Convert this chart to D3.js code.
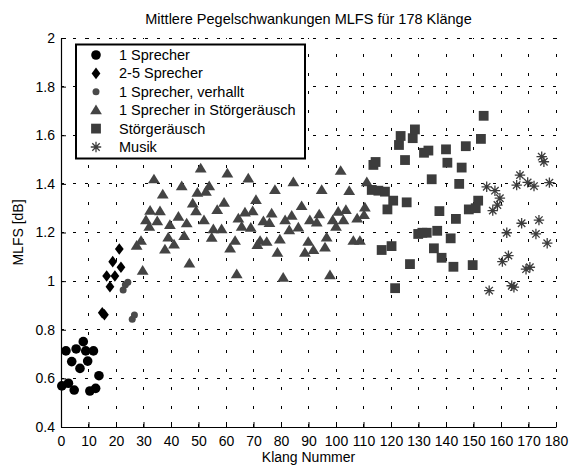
<!DOCTYPE html>
<html><head><meta charset="utf-8">
<script src="https://cdn.jsdelivr.net/npm/d3@7"></script>
<style>
body{margin:0;background:#fff;}
text{font-family:"Liberation Sans",Arial,sans-serif;}
</style></head>
<body><svg id="c" width="578" height="467"></svg>
<script>
const title = "Mittlere Pegelschwankungen MLFS für 178 Klänge";
const xLabel = "Klang Nummer";
const yLabel = "MLFS [dB]";
const xTicks = [0,10,20,30,40,50,60,70,80,90,100,110,120,130,140,150,160,170,180];
const yTicks = [0.4,0.6,0.8,1,1.2,1.4,1.6,1.8,2];
const seriesNames = ["1 Sprecher","2-5 Sprecher","1 Sprecher, verhallt","1 Sprecher in Störgeräusch","Störgeräusch","Musik"];

const sprecher1 = [[0.3,0.569],[1.8,0.713],[2.7,0.580],[3.9,0.669],[4.8,0.552],[5.5,0.721],[6.9,0.641],[8.1,0.751],[9.0,0.713],[9.7,0.671],[10.5,0.548],[11.8,0.713],[12.6,0.559],[13.8,0.611]];
const sprecher25 = [[15.0,0.870],[15.8,0.862],[16.6,1.021],[17.8,0.977],[18.8,1.080],[19.6,1.021],[21.2,1.132],[21.8,1.057]];
const verhallt = [[22.6,0.964],[23.4,0.985],[24.3,0.995],[25.9,0.843],[26.7,0.861]];
const stoerSprecher = [[27.5,1.146],[29.1,1.166],[29.7,1.043],[30.9,1.251],[32.1,1.224],[32.4,1.290],[33.8,1.419],[35.0,1.247],[36.0,1.288],[37.0,1.357],[37.8,1.131],[39.0,1.180],[39.6,1.231],[41.1,1.151],[42.7,1.265],[43.9,1.391],[44.8,1.186],[45.7,1.238],[46.7,1.073],[47.9,1.320],[49.1,1.288],[49.6,1.364],[50.8,1.464],[52.0,1.251],[52.7,1.368],[53.9,1.391],[54.8,1.179],[55.4,1.214],[56.8,1.293],[58.4,1.214],[59.3,1.323],[60.5,1.443],[61.5,1.135],[63.3,1.166],[63.9,1.029],[64.5,1.258],[65.7,1.224],[66.9,1.283],[68.1,1.423],[69.0,1.220],[69.7,1.288],[70.9,1.334],[71.4,1.149],[72.4,1.166],[73.6,1.247],[74.8,1.162],[75.8,1.240],[76.6,1.279],[77.8,1.375],[78.7,1.117],[79.6,1.172],[80.8,1.014],[81.5,1.251],[83.0,1.210],[83.9,1.269],[84.5,1.407],[86.3,1.221],[87.5,1.309],[88.7,1.117],[89.9,1.162],[90.5,1.251],[91.8,1.128],[93.0,1.242],[93.9,1.275],[94.8,1.375],[96.0,1.139],[96.6,1.180],[97.8,1.025],[98.8,1.251],[100.0,1.224],[100.8,1.286],[101.7,1.454],[102.7,1.251],[103.6,1.293],[104.8,1.371],[106.3,1.166],[107.7,1.258],[108.7,1.166],[110.2,1.272],[110.5,1.303],[111.2,1.407]];
const stoer = [[113.0,1.375],[113.6,1.478],[114.4,1.490],[115.4,1.372],[116.6,1.128],[117.8,1.368],[118.7,1.295],[120.2,1.144],[120.8,1.331],[121.5,0.971],[122.9,1.560],[123.5,1.597],[125.1,1.498],[125.7,1.324],[126.9,1.070],[127.9,1.588],[128.7,1.624],[129.9,1.194],[131.4,1.199],[132.0,1.528],[133.0,1.199],[133.6,1.537],[134.8,1.419],[135.6,1.135],[136.8,1.207],[137.6,1.288],[138.4,1.096],[140.0,1.542],[140.5,1.487],[141.7,1.176],[142.7,1.059],[143.6,1.256],[144.8,1.400],[145.7,1.467],[147.2,1.555],[148.3,1.295],[149.7,1.066],[150.8,1.300],[151.7,1.331],[152.7,1.585],[153.7,1.680]];
const musik = [[154.8,1.388],[155.7,0.961],[157.0,1.290],[157.8,1.372],[158.7,1.313],[159.6,1.341],[160.5,1.080],[162.1,1.199],[162.7,1.105],[163.9,0.981],[164.7,0.975],[165.7,1.395],[166.9,1.436],[167.5,1.238],[169.1,1.049],[169.7,1.406],[170.5,1.057],[172.0,1.391],[172.7,1.194],[173.8,1.251],[174.8,1.512],[175.6,1.491],[176.8,1.156],[177.6,1.405]];

const svg = d3.select("#c");
const x = d3.scaleLinear().domain([0,180]).range([61,556]);
const y = d3.scaleLinear().domain([0.4,2]).range([427,38]);

const shapes = {
  circle:{draw(c){c.moveTo(4.8,0);c.arc(0,0,4.8,0,2*Math.PI);}},
  diamond:{draw(c){c.moveTo(0,-5.8);c.lineTo(4.4,0);c.lineTo(0,5.8);c.lineTo(-4.4,0);c.closePath();}},
  small:{draw(c){c.moveTo(3.5,0);c.arc(0,0,3.5,0,2*Math.PI);}},
  triangle:{draw(c){c.moveTo(0,-5.6);c.lineTo(5.9,4.1);c.lineTo(-5.9,4.1);c.closePath();}},
  square:{draw(c){c.moveTo(-4.9,-4.9);c.lineTo(4.9,-4.9);c.lineTo(4.9,4.9);c.lineTo(-4.9,4.9);c.closePath();}},
  star:{draw(c){const r=5.2,d=3.7;c.moveTo(-r,0);c.lineTo(r,0);c.moveTo(0,-r);c.lineTo(0,r);c.moveTo(-d,-d);c.lineTo(d,d);c.moveTo(-d,d);c.lineTo(d,-d);}}
};
const series = [
  {data:sprecher1, shape:"circle", fill:"#000"},
  {data:sprecher25, shape:"diamond", fill:"#000"},
  {data:verhallt, shape:"small", fill:"#4a4a4a"},
  {data:stoerSprecher, shape:"triangle", fill:"#444"},
  {data:stoer, shape:"square", fill:"#3c3c3c"},
  {data:musik, shape:"star", fill:"none", stroke:"#3c3c3c"}
];

// grid
const grid = svg.append("g").attr("shape-rendering","crispEdges");
grid.selectAll("line.v").data(xTicks.slice(1)).join("line")
  .attr("x1",d=>x(d)).attr("x2",d=>x(d)).attr("y1",y(0.4)).attr("y2",y(2))
  .attr("stroke","#000").attr("stroke-width",1).attr("stroke-dasharray","3,15.5");
grid.selectAll("line.h").data(yTicks.slice(1)).join("line")
  .attr("x1",x(0)).attr("x2",x(180)).attr("y1",d=>y(d)).attr("y2",d=>y(d))
  .attr("stroke","#000").attr("stroke-width",1).attr("stroke-dasharray","3,9");

// points
series.forEach(s=>{
  svg.append("g").selectAll("path").data(s.data).join("path")
    .attr("transform",d=>`translate(${x(d[0])},${y(d[1])})`)
    .attr("d",d3.symbol().type(shapes[s.shape]))
    .attr("fill",s.fill)
    .attr("stroke",s.stroke||"none")
    .attr("stroke-width",s.stroke?1.3:0);
});

// axes
const fmt = d=>String(d);
const gx = svg.append("g").attr("transform",`translate(0,${y(0.4)})`)
  .call(d3.axisBottom(x).tickValues(xTicks).tickFormat(fmt).tickSizeInner(-5).tickSizeOuter(0).tickPadding(9));
const gy = svg.append("g").attr("transform",`translate(${x(0)},0)`)
  .call(d3.axisLeft(y).tickValues(yTicks).tickFormat(fmt).tickSizeInner(-5).tickSizeOuter(0).tickPadding(6));
[gx,gy].forEach(g=>{
  g.selectAll("text").attr("fill","#000").style("font-size","14px").style("font-family","'Liberation Sans',Arial,sans-serif");
  g.selectAll("line").attr("stroke","#000");
  g.select(".domain").attr("stroke","#000").attr("stroke-width",1.2);
});

// labels
svg.append("text").attr("x",(x(0)+x(180))/2).attr("y",24).attr("text-anchor","middle").style("font-size","14.5px").text(title);
svg.append("text").attr("x",(x(0)+x(180))/2).attr("y",462).attr("text-anchor","middle").style("font-size","14px").text(xLabel);
svg.append("text").attr("transform",`translate(23,${(y(0.4)+y(2))/2}) rotate(-90)`).attr("text-anchor","middle").style("font-size","14px").text(yLabel);

// legend
const lg = svg.append("g");
lg.append("rect").attr("x",76).attr("y",44.5).attr("width",229).attr("height",114)
  .attr("fill","#fff").attr("stroke","#000").attr("stroke-width",2);
seriesNames.forEach((name,i)=>{
  const s = series[i];
  const cy = 55 + i*18.4;
  lg.append("path").attr("transform",`translate(96,${cy})`)
    .attr("d",d3.symbol().type(shapes[s.shape]))
    .attr("fill",s.fill).attr("stroke",s.stroke||"none").attr("stroke-width",s.stroke?1.3:0);
  lg.append("text").attr("x",119).attr("y",cy+5).style("font-size","14.5px").text(name);
});
</script></body></html>
